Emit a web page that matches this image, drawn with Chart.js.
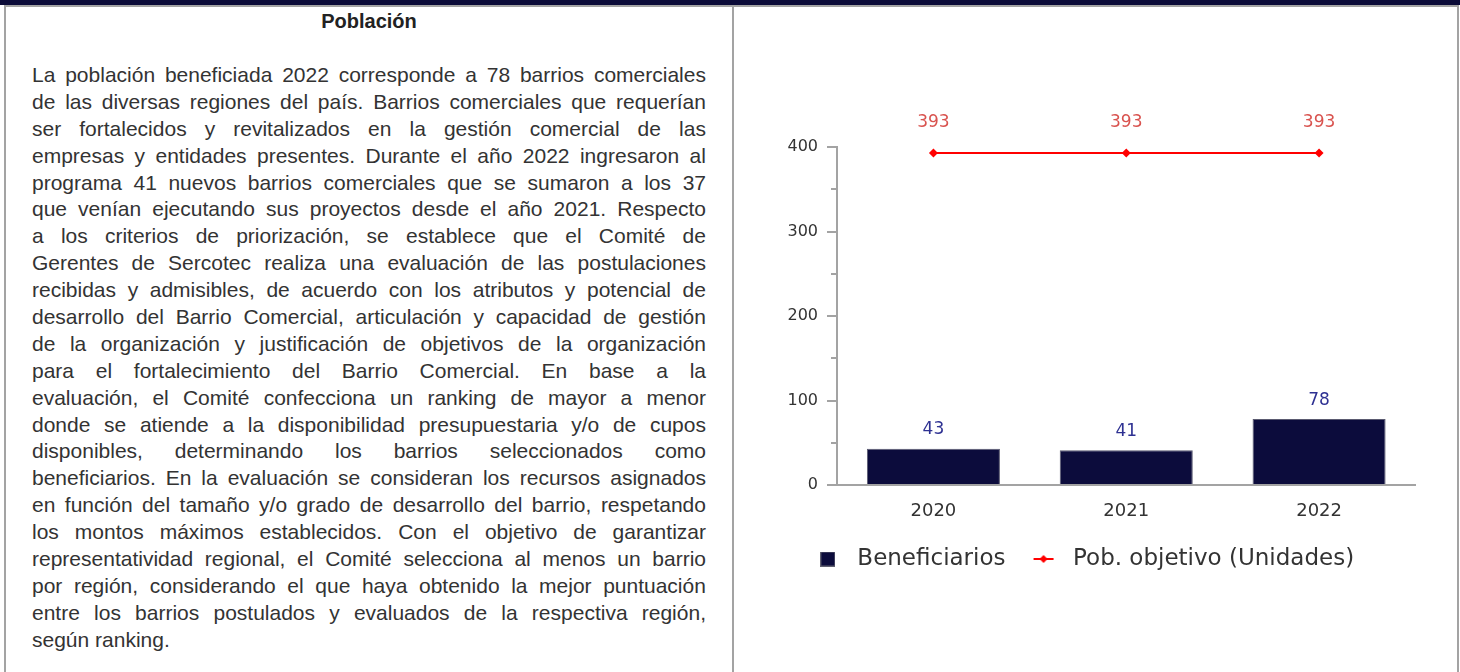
<!DOCTYPE html>
<html><head><meta charset="utf-8">
<script src="https://cdn.jsdelivr.net/npm/chart.js@4.4.1/dist/chart.umd.min.js"></script>
<style>
html,body{margin:0;padding:0;background:#fff;width:1460px;height:672px;overflow:hidden;}
#band{position:absolute;left:0;top:0;width:1460px;height:5px;background:#0b0b38;}
#tbl{position:absolute;left:4px;top:5px;width:1455px;height:700px;border-top:2px solid #a3a3a3;border-left:2px solid #a3a3a3;border-right:2px solid #a3a3a3;box-sizing:border-box;}
#sep{position:absolute;left:732px;top:5px;width:2px;height:700px;background:#a3a3a3;}
#title{position:absolute;left:6px;width:726px;top:8px;text-align:center;font:bold 20px 'Liberation Sans',Arial,sans-serif;color:#222;line-height:26px;}
#txt{position:absolute;left:32px;width:674px;top:62px;font:21px 'Liberation Sans',Arial,sans-serif;color:#333;}
.ln{display:flex;justify-content:space-between;white-space:nowrap;height:26.9px;line-height:26.9px;gap:4px;}
.ln.last{justify-content:flex-start;white-space:pre;}
#wrap{position:absolute;left:747px;top:60px;width:673px;height:540px;}
</style></head>
<body>
<div id="band"></div>
<div id="tbl"></div>
<div id="sep"></div>
<div id="title">Población</div>
<div id="txt"></div>
<div id="wrap"><canvas id="c" width="673" height="540"></canvas></div>
<script>
const paragraphLines = [
"La población beneficiada 2022 corresponde a 78 barrios comerciales",
"de las diversas regiones del país. Barrios comerciales que requerían",
"ser fortalecidos y revitalizados en la gestión comercial de las",
"empresas y entidades presentes. Durante el año 2022 ingresaron al",
"programa 41 nuevos barrios comerciales que se sumaron a los 37",
"que venían ejecutando sus proyectos desde el año 2021. Respecto",
"a los criterios de priorización, se establece que el Comité de",
"Gerentes de Sercotec realiza una evaluación de las postulaciones",
"recibidas y admisibles, de acuerdo con los atributos y potencial de",
"desarrollo del Barrio Comercial, articulación y capacidad de gestión",
"de la organización y justificación de objetivos de la organización",
"para el fortalecimiento del Barrio Comercial. En base a la",
"evaluación, el Comité confecciona un ranking de mayor a menor",
"donde se atiende a la disponibilidad presupuestaria y/o de cupos",
"disponibles, determinando los barrios seleccionados como",
"beneficiarios. En la evaluación se consideran los recursos asignados",
"en función del tamaño y/o grado de desarrollo del barrio, respetando",
"los montos máximos establecidos. Con el objetivo de garantizar",
"representatividad regional, el Comité selecciona al menos un barrio",
"por región, considerando el que haya obtenido la mejor puntuación",
"entre los barrios postulados y evaluados de la respectiva región,",
"según ranking."
];
const txt = document.getElementById('txt');
paragraphLines.forEach((line, i) => {
  const d = document.createElement('div');
  d.className = 'ln' + (i === paragraphLines.length - 1 ? ' last' : '');
  if (i === paragraphLines.length - 1) { d.textContent = line; }
  else {
    line.split(' ').forEach(w => { const s = document.createElement('span'); s.textContent = w; d.appendChild(s); });
  }
  txt.appendChild(d);
});

// ---- chart data ----
const categories = ['2020', '2021', '2022'];
const beneficiarios = [43, 41, 78];
const poblacionObjetivo = [393, 393, 393];
const seriesNames = ['Beneficiarios', 'Pob. objetivo (Unidades)'];
const yTickLabels = [0, 100, 200, 300, 400];
const yMinorTicks = [50, 150, 250, 350];

// legend icons
function makeSquareIcon() {
  const c = document.createElement('canvas'); c.width = 15; c.height = 15;
  const g = c.getContext('2d');
  g.fillStyle = '#0c0c3c'; g.fillRect(0, 0, 15, 15);
  g.strokeStyle = '#606070'; g.lineWidth = 1; g.strokeRect(0.5, 0.5, 14, 14);
  return c;
}
function makeLineIcon() {
  const c = document.createElement('canvas'); c.width = 24; c.height = 10;
  const g = c.getContext('2d');
  g.strokeStyle = '#ff0000'; g.lineWidth = 2;
  g.beginPath(); g.moveTo(2, 5); g.lineTo(22, 5); g.stroke();
  g.fillStyle = '#ff0000';
  g.beginPath(); g.moveTo(12, 1); g.lineTo(16, 5); g.lineTo(12, 9); g.lineTo(8, 5); g.closePath(); g.fill();
  return c;
}
const legendIcons = [makeSquareIcon(), makeLineIcon()];

const valueLabels = {
  id: 'valueLabels',
  afterDatasetsDraw(chart) {
    const ctx = chart.ctx;
    chart.data.datasets.forEach((ds, i) => {
      const meta = chart.getDatasetMeta(i);
      meta.data.forEach((el, j) => {
        ctx.save();
        ctx.font = '17px "DejaVu Sans"';
        ctx.textAlign = 'center';
        ctx.textBaseline = 'middle';
        ctx.fillStyle = ds.type === 'line' ? '#d9534f' : '#2e3192';
        ctx.fillText(String(ds.data[j]), el.x, el.y - (ds.type === 'line' ? 30 : 19));
        ctx.restore();
      });
    });
  }
};
const minorTicks = {
  id: 'minorTicks',
  afterDraw(chart) {
    const s = chart.scales.y, ctx = chart.ctx;
    ctx.save();
    ctx.strokeStyle = '#a3a3a3'; ctx.lineWidth = 2;
    yMinorTicks.forEach(v => {
      const y = Math.round(s.getPixelForValue(v));
      ctx.beginPath(); ctx.moveTo(s.right - 6, y); ctx.lineTo(s.right, y); ctx.stroke();
    });
    ctx.restore();
  }
};

new Chart(document.getElementById('c'), {
  type: 'bar',
  data: {
    labels: categories,
    datasets: [
      { type: 'bar', label: seriesNames[0], data: beneficiarios, backgroundColor: '#0c0c3c', borderColor: '#5a5a70', borderWidth: 1, barPercentage: 0.69, categoryPercentage: 1, order: 1 },
      { type: 'line', label: seriesNames[1], data: poblacionObjetivo, borderColor: '#ff0000', borderWidth: 2, pointStyle: 'rectRot', pointRadius: 4.5, pointBackgroundColor: '#ff0000', pointBorderColor: '#ff0000', pointBorderWidth: 0, order: 0 }
    ]
  },
  options: {
    responsive: false, animation: false, devicePixelRatio: 1,
    layout: { padding: { left: 0, right: 3, top: 87, bottom: 19.5 } },
    plugins: {
      tooltip: { enabled: false },
      legend: {
        position: 'bottom',
        labels: {
          usePointStyle: true, pointStyleWidth: 36, padding: 20, color: '#333',
          font: { family: 'DejaVu Sans', size: 23 },
          generateLabels: chart => chart.data.datasets.map((ds, i) => ({
            text: ds.label, pointStyle: legendIcons[i], fillStyle: 'rgba(0,0,0,0)', strokeStyle: 'rgba(0,0,0,0)', lineWidth: 0, hidden: false, datasetIndex: i, fontColor: '#333'
          }))
        }
      }
    },
    scales: {
      x: {
        grid: { display: false, drawTicks: false },
        border: { display: true, color: '#a3a3a3', width: 2 },
        ticks: { padding: 16, color: '#333', font: { family: 'DejaVu Sans', size: 18 } },
        afterFit(s) { s.height = 42.5; }
      },
      y: {
        min: 0, max: 400,
        ticks: { stepSize: 50, autoSkip: false, padding: 9, color: '#333', font: { family: 'DejaVu Sans', size: 16 },
          callback: v => yTickLabels.includes(v) ? String(v) : '' },
        grid: { drawOnChartArea: false, tickLength: 10, lineWidth: 2,
          tickColor: c => (c.tick && yTickLabels.includes(c.tick.value)) ? '#a3a3a3' : 'rgba(0,0,0,0)' },
        border: { display: true, color: '#a3a3a3', width: 2 },
        afterFit(s) { s.width = 90; }
      }
    }
  },
  plugins: [valueLabels, minorTicks]
});
</script>
</body></html>
